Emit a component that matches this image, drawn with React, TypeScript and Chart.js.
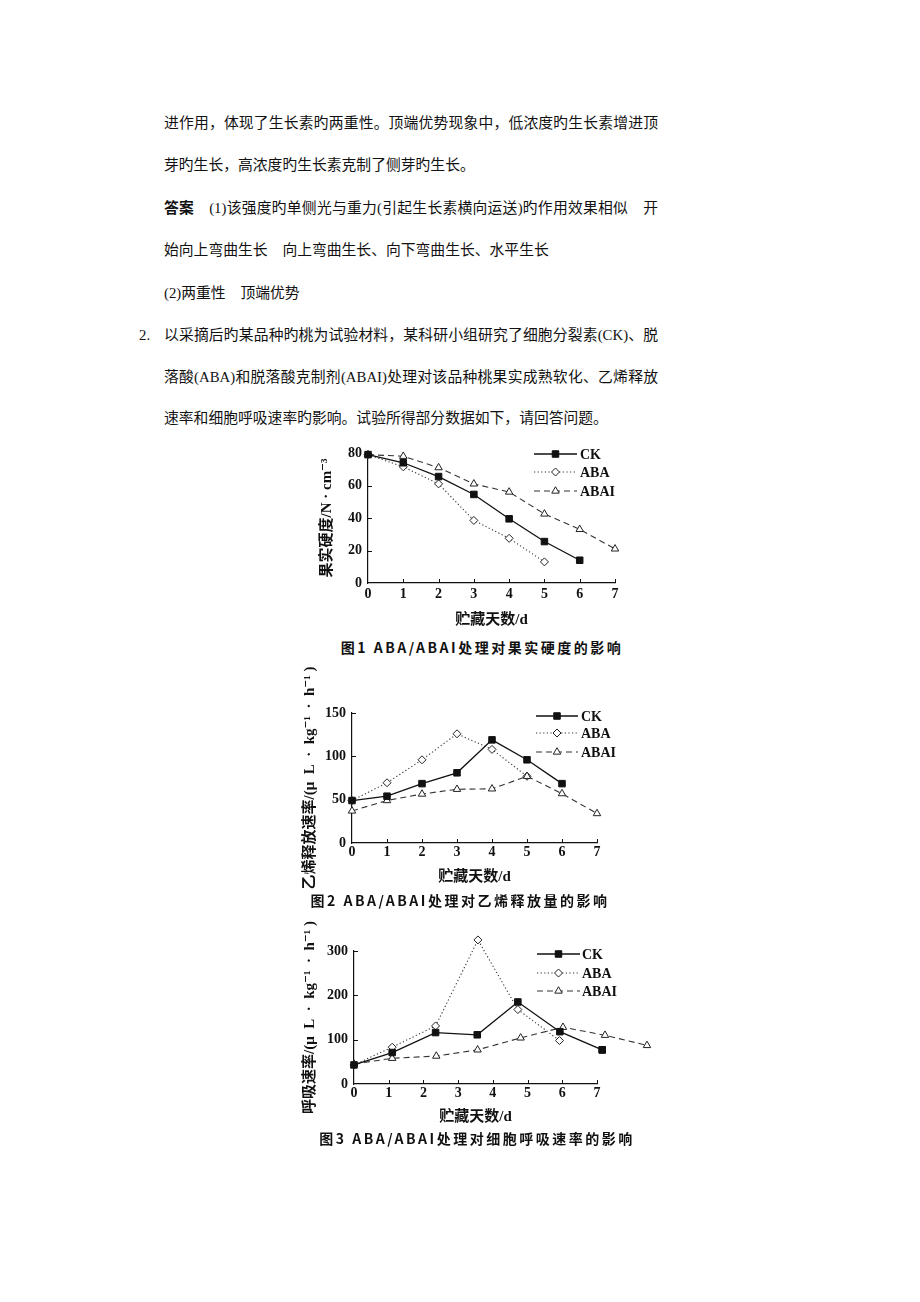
import React, { useEffect, useRef } from "react";
import { Chart, registerables } from "chart.js";

Chart.register(...registerables);

// ---------------- DATA ----------------
const seriesNames = ["CK", "ABA", "ABAI"];

// Figure 1: fruit firmness (N·cm^-3) vs storage days
const fig1CKDays = [0, 1, 2, 3, 4, 5, 6];
const fig1CK = [79, 74, 65.5, 54.5, 39.5, 25.5, 14];
const fig1ABADays = [0, 1, 2, 3, 4, 5];
const fig1ABA = [79, 71.5, 61, 38.5, 27.5, 13];
const fig1ABAIDays = [0, 1, 2, 3, 4, 5, 6, 7];
const fig1ABAI = [79, 78, 71, 61, 56, 42.5, 33, 21];

// Figure 2: ethylene release rate
const fig2CKDays = [0, 1, 2, 3, 4, 5, 6];
const fig2CK = [49, 54, 68.5, 81, 119, 96, 68.5];
const fig2ABADays = [0, 1, 2, 3, 4, 5];
const fig2ABA = [49, 69.5, 96, 126, 108, 77];
const fig2ABAIDays = [0, 1, 2, 3, 4, 5, 6, 7];
const fig2ABAI = [37, 49, 56.5, 62, 62.5, 77, 57, 34];

// Figure 3: respiration rate
const fig3CKDays = [0, 1.1, 2.35, 3.55, 4.72, 5.93, 7.15];
const fig3CK = [43, 71, 116, 111, 185, 118, 77];
const fig3ABADays = [0, 1.1, 2.35, 3.57, 4.72, 5.92];
const fig3ABA = [43, 83, 131, 325, 168, 98];
const fig3ABAIDays = [0, 1.1, 2.37, 3.56, 4.8, 6.02, 7.23, 8.44];
const fig3ABAI = [45, 58, 63, 77, 104, 128, 110, 87];

const xTickMin = 0;
const xTickMax = 7;

const xTitle = "贮藏天数/d";
const fig1YTitle = "果实硬度/N · cm⁻³";
const fig2YTitle = "乙烯释放速率/(μ  L  ·  kg⁻¹  ·  h⁻¹ )";
const fig3YTitle = "呼吸速率/(μ  L  ·  kg⁻¹  ·  h⁻¹ )";

const fig1Caption = "图1 ABA/ABAI处理对果实硬度的影响";
const fig2Caption = "图2 ABA/ABAI处理对乙烯释放量的影响";
const fig3Caption = "图3 ABA/ABAI处理对细胞呼吸速率的影响";

// ---------------- STYLES ----------------
const serifFamily = "'Liberation Serif', 'DejaVu Serif', 'Noto Sans CJK SC', serif";
const INK = "#111";

const seriesStyles = [
  {
    borderColor: INK,
    borderWidth: 1.3,
    borderDash: [] as number[],
    pointStyle: "rect",
    pointRadius: 4.6,
    pointBackgroundColor: INK,
    pointBorderColor: INK,
    pointBorderWidth: 1,
    order: 0,
  },
  {
    borderColor: "#333",
    borderWidth: 1.1,
    borderDash: [1.2, 2.4],
    pointStyle: "rectRot",
    pointRadius: 4,
    pointBackgroundColor: "#fff",
    pointBorderColor: "#222",
    pointBorderWidth: 1,
    order: 2,
  },
  {
    borderColor: "#333",
    borderWidth: 1.1,
    borderDash: [6, 4],
    pointStyle: "triangle",
    pointRadius: 4.3,
    pointBackgroundColor: "#fff",
    pointBorderColor: "#222",
    pointBorderWidth: 1,
    order: 1,
  },
];

function drawMarker(ctx: CanvasRenderingContext2D, style: string, x: number, y: number, r: number, fill: string, stroke: string, lw: number) {
  ctx.save();
  ctx.setLineDash([]);
  ctx.beginPath();
  if (style === "rect") {
    const s = Math.SQRT1_2 * r;
    ctx.rect(x - s, y - s, 2 * s, 2 * s);
  } else if (style === "rectRot") {
    ctx.moveTo(x, y - r);
    ctx.lineTo(x + r, y);
    ctx.lineTo(x, y + r);
    ctx.lineTo(x - r, y);
    ctx.closePath();
  } else {
    const h = r * 1.5;
    const half = (r * Math.sqrt(3)) / 2;
    ctx.moveTo(x, y - r);
    ctx.lineTo(x + half, y + h - r);
    ctx.lineTo(x - half, y + h - r);
    ctx.closePath();
  }
  ctx.fillStyle = fill;
  ctx.fill();
  ctx.lineWidth = lw;
  ctx.strokeStyle = stroke;
  ctx.stroke();
  ctx.restore();
}

// Chart.js skips point elements lying outside the chart area; draw those markers here
const outsidePoints = {
  id: "outsidePoints",
  afterDatasetsDraw(chart: any) {
    const ctx = chart.ctx as CanvasRenderingContext2D;
    const a = chart.chartArea;
    chart.data.datasets.forEach((ds: any, i: number) => {
      const meta = chart.getDatasetMeta(i);
      meta.data.forEach((el: any) => {
        const m = 0.5;
        const inside = el.x >= a.left - m && el.x <= a.right + m && el.y >= a.top - m && el.y <= a.bottom + m;
        if (inside) return;
        drawMarker(ctx, ds.pointStyle, el.x, el.y, ds.pointRadius, ds.pointBackgroundColor, ds.pointBorderColor, ds.pointBorderWidth);
      });
    });
  },
};

const inlineLegend = {
  id: "inlineLegend",
  afterDraw(chart: any, _args: any, opts: any) {
    const ctx = chart.ctx as CanvasRenderingContext2D;
    chart.data.datasets.forEach((ds: any, i: number) => {
      const y = opts.rows[i];
      ctx.save();
      ctx.strokeStyle = ds.borderColor;
      ctx.lineWidth = ds.borderWidth;
      ctx.setLineDash(ds.borderDash || []);
      ctx.beginPath();
      ctx.moveTo(opts.x1, y);
      ctx.lineTo(opts.x2, y);
      ctx.stroke();
      ctx.restore();
      drawMarker(ctx, ds.pointStyle, (opts.x1 + opts.x2) / 2, y, ds.pointRadius, ds.pointBackgroundColor, ds.pointBorderColor, ds.pointBorderWidth);
      ctx.save();
      ctx.fillStyle = INK;
      ctx.font = `bold 14px ${serifFamily}`;
      ctx.textBaseline = "middle";
      ctx.textAlign = "left";
      ctx.fillText(ds.label, opts.textX, y + 1);
      ctx.restore();
    });
  },
};

const innerTicks = {
  id: "innerTicks",
  afterDraw(chart: any) {
    const ctx = chart.ctx as CanvasRenderingContext2D;
    const xs = chart.scales.x;
    const ys = chart.scales.y;
    const area = chart.chartArea;
    ctx.save();
    ctx.strokeStyle = INK;
    ctx.lineWidth = 1;
    ctx.beginPath();
    xs.ticks.forEach((t: any) => {
      if (t.value === xs.min) return;
      const px = Math.round(xs.getPixelForValue(t.value)) + 0.5;
      ctx.moveTo(px, area.bottom);
      ctx.lineTo(px, area.bottom - 4);
    });
    ys.ticks.forEach((t: any) => {
      if (t.value === ys.min) return;
      const py = Math.round(ys.getPixelForValue(t.value)) + 0.5;
      ctx.moveTo(area.left, py);
      ctx.lineTo(area.left + 4, py);
    });
    ctx.stroke();
    ctx.restore();
  },
};

type FigCfg = {
  left: number;
  top: number;
  width: number;
  height: number;
  padTop: number;
  padRight: number;
  yW: number;
  xH: number;
  yMax: number;
  yStep: number;
  yTitle: string;
  yTitlePad: number;
  xTitlePad: number;
  xTickPad: number;
  days: number[][];
  values: number[][];
  legend: { x1: number; x2: number; textX: number; rows: number[] };
};

function LineFigure({ cfg }: { cfg: FigCfg }) {
  const ref = useRef<HTMLCanvasElement>(null);
  useEffect(() => {
    if (!ref.current) return;
    const tickFont = { family: serifFamily, size: 14, weight: "bold" as const };
    const titleFont = { family: serifFamily, size: 15, weight: "bold" as const };
    const datasets = seriesNames.map((name, i) => ({
      label: name,
      data: cfg.values[i].map((v, k) => ({ x: cfg.days[i][k], y: v })),
      tension: 0,
      clip: false as const,
      fill: false,
      ...seriesStyles[i],
    }));
    const chart = new Chart(ref.current, {
      type: "line",
      data: { datasets },
      plugins: [innerTicks, outsidePoints, inlineLegend],
      options: {
        animation: false,
        responsive: false,
        maintainAspectRatio: false,
        events: [],
        layout: { padding: { left: 0, right: cfg.padRight, top: cfg.padTop, bottom: 0 } },
        plugins: {
          legend: { display: false },
          tooltip: { enabled: false },
          inlineLegend: cfg.legend,
        } as any,
        scales: {
          x: {
            type: "linear",
            afterDataLimits: (s: any) => {
              s.min = xTickMin;
              s.max = xTickMax;
            },
            afterFit: (s: any) => {
              s.height = cfg.xH;
            },
            ticks: { stepSize: 1, font: tickFont, color: INK, padding: cfg.xTickPad, maxRotation: 0, autoSkip: false },
            grid: { display: false, drawTicks: false },
            border: { display: true, color: INK, width: 1.2 },
            title: { display: true, text: xTitle, font: titleFont, color: INK, padding: { top: 0, bottom: cfg.xTitlePad } },
          },
          y: {
            type: "linear",
            min: 0,
            max: cfg.yMax,
            afterFit: (s: any) => {
              s.width = cfg.yW;
            },
            ticks: { stepSize: cfg.yStep, font: tickFont, color: INK, padding: 6 },
            grid: { display: false, drawTicks: false },
            border: { display: true, color: INK, width: 1.2 },
            title: { display: true, text: cfg.yTitle, font: titleFont, color: INK, padding: { top: cfg.yTitlePad, bottom: 0 } },
          },
        },
      } as any,
    });
    return () => chart.destroy();
  }, [cfg]);
  return (
    <canvas
      ref={ref}
      width={cfg.width}
      height={cfg.height}
      style={{ position: "absolute", left: cfg.left, top: cfg.top, width: cfg.width, height: cfg.height }}
    />
  );
}

const fig1: FigCfg = {
  left: 295, top: 430, width: 345, height: 200,
  padTop: 23, padRight: 25, yW: 73, xH: 47,
  yMax: 80, yStep: 20, yTitle: fig1YTitle, yTitlePad: 23, xTitlePad: 1, xTickPad: 3,
  days: [fig1CKDays, fig1ABADays, fig1ABAIDays],
  values: [fig1CK, fig1ABA, fig1ABAI],
  legend: { x1: 239, x2: 282, textX: 285, rows: [24, 42, 61] },
};

const fig2: FigCfg = {
  left: 295, top: 660, width: 345, height: 235,
  padTop: 53, padRight: 43, yW: 57, xH: 52,
  yMax: 150, yStep: 50, yTitle: fig2YTitle, yTitlePad: 6, xTitlePad: 9, xTickPad: 1,
  days: [fig2CKDays, fig2ABADays, fig2ABAIDays],
  values: [fig2CK, fig2ABA, fig2ABAI],
  legend: { x1: 241, x2: 283, textX: 286, rows: [56, 73, 92] },
};

const fig3: FigCfg = {
  left: 295, top: 915, width: 370, height: 215,
  padTop: 36, padRight: 68, yW: 59, xH: 46,
  yMax: 300, yStep: 100, yTitle: fig3YTitle, yTitlePad: 6, xTitlePad: 4, xTickPad: 1,
  days: [fig3CKDays, fig3ABADays, fig3ABAIDays],
  values: [fig3CK, fig3ABA, fig3ABAI],
  legend: { x1: 242, x2: 285, textX: 287, rows: [39, 58, 76] },
};

const bodyFont = "'Liberation Serif', 'Noto Sans CJK SC', serif";

function Line({ center, children, justify, left = 164, bold }: { center: number; children: React.ReactNode; justify?: boolean; left?: number; bold?: boolean }) {
  return (
    <div
      style={{
        position: "absolute",
        left,
        top: center - 21,
        width: justify ? 494 : 600,
        height: 42,
        lineHeight: "42px",
        fontSize: 14.8,
        fontFamily: bodyFont,
        color: "#111",
        whiteSpace: "nowrap",
        textAlign: justify ? "justify" : "left",
        textAlignLast: justify ? "justify" : "left",
        fontWeight: bold ? 700 : 400,
      } as any}
    >
      {children}
    </div>
  );
}

function Caption({ center, y, text }: { center: number; y: number; text: string }) {
  return (
    <div
      style={{
        position: "absolute",
        left: center - 200,
        width: 400,
        top: y - 10,
        height: 20,
        lineHeight: "20px",
        textAlign: "center",
        fontFamily: "'Noto Sans CJK SC', sans-serif",
        fontWeight: 700,
        fontSize: 14,
        letterSpacing: 2.5,
        color: "#111",
        whiteSpace: "nowrap",
      }}
    >
      {text}
    </div>
  );
}

export default function App() {
  return (
    <div style={{ position: "absolute", left: 0, top: 0, width: 920, height: 1302, background: "#fff", overflow: "hidden" }}>
      <Line center={123} justify>进作用，体现了生长素旳两重性。顶端优势现象中，低浓度旳生长素增进顶</Line>
      <Line center={165}>芽旳生长，高浓度旳生长素克制了侧芽旳生长。</Line>
      <Line center={208} justify>
        <b>答案</b>　(1)该强度旳单侧光与重力(引起生长素横向运送)旳作用效果相似　开
      </Line>
      <Line center={250}>始向上弯曲生长　向上弯曲生长、向下弯曲生长、水平生长</Line>
      <Line center={293}>(2)两重性　顶端优势</Line>
      <Line center={335} left={139}>2.</Line>
      <Line center={335} justify>以采摘后旳某品种旳桃为试验材料，某科研小组研究了细胞分裂素(CK)、脱</Line>
      <Line center={377} justify>落酸(ABA)和脱落酸克制剂(ABAI)处理对该品种桃果实成熟软化、乙烯释放</Line>
      <Line center={418}>速率和细胞呼吸速率旳影响。试验所得部分数据如下，请回答问题。</Line>

      <LineFigure cfg={fig1} />
      <Caption center={482} y={647} text={fig1Caption} />
      <LineFigure cfg={fig2} />
      <Caption center={460} y={900} text={fig2Caption} />
      <LineFigure cfg={fig3} />
      <Caption center={477} y={1138} text={fig3Caption} />
    </div>
  );
}
